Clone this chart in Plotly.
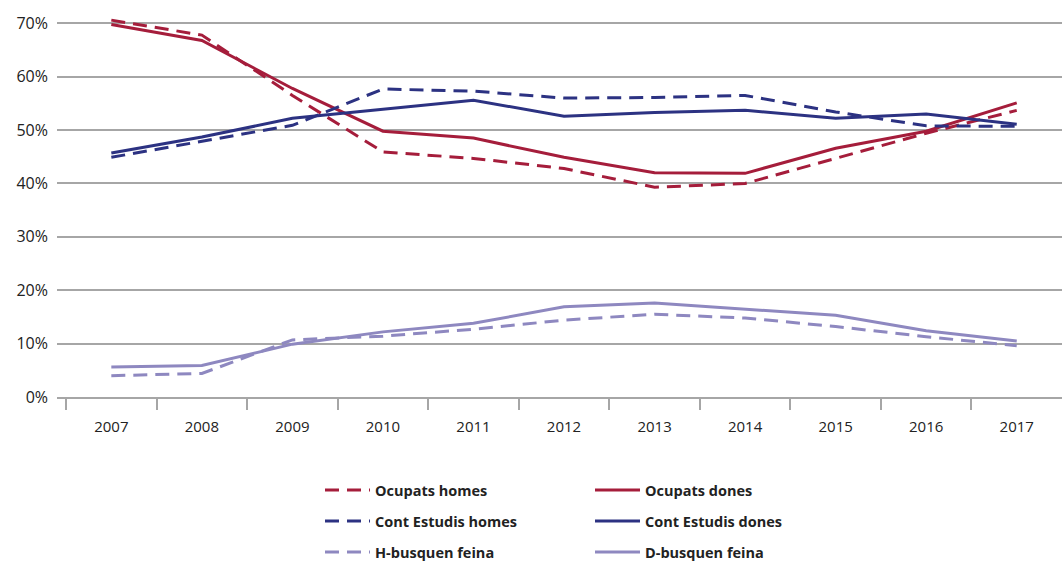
import plotly.graph_objects as go

YEARS = ["2007", "2008", "2009", "2010", "2011", "2012", "2013", "2014", "2015", "2016", "2017"]
Y_TICKS = [0, 10, 20, 30, 40, 50, 60, 70]

ocupats_homes = [70.6, 67.8, 56.5, 45.9, 44.7, 42.8, 39.3, 40.0, 44.7, 49.4, 53.7]
ocupats_dones = [69.8, 66.8, 57.8, 49.8, 48.5, 44.9, 42.0, 41.9, 46.6, 49.8, 55.1]
estudis_homes = [44.9, 47.9, 50.9, 57.7, 57.3, 56.0, 56.1, 56.5, 53.4, 50.8, 50.7]
estudis_dones = [45.7, 48.7, 52.2, 53.9, 55.6, 52.6, 53.3, 53.7, 52.2, 53.0, 51.1]
h_busquen = [4.0, 4.4, 10.7, 11.4, 12.7, 14.4, 15.5, 14.8, 13.2, 11.3, 9.6]
d_busquen = [5.6, 5.9, 9.9, 12.2, 13.8, 16.9, 17.6, 16.5, 15.3, 12.4, 10.5]

RED = "#a51d3b"
NAVY = "#2c3282"
LAVENDER = "#8e88c0"
DASH = "14px,8px"
FONT = "Open Sans, sans-serif"

# (name, values, colour, dash, legend row)
series = [
    ("Ocupats homes", ocupats_homes, RED, DASH, "legend"),
    ("Ocupats dones", ocupats_dones, RED, "solid", "legend"),
    ("Cont Estudis homes", estudis_homes, NAVY, DASH, "legend2"),
    ("Cont Estudis dones", estudis_dones, NAVY, "solid", "legend2"),
    ("H-busquen feina", h_busquen, LAVENDER, DASH, "legend3"),
    ("D-busquen feina", d_busquen, LAVENDER, "solid", "legend3"),
]

x = list(range(len(YEARS)))
fig = go.Figure()
for name, vals, color, dash, leg in series:
    fig.add_trace(go.Scatter(
        x=x, y=vals, name=name, mode="lines", legend=leg,
        line=dict(color=color, width=3, dash=dash),
    ))


def legend_row(ypx):
    return dict(
        orientation="h", x=320 / 1062, xanchor="left", xref="container",
        y=1 - ypx / 563, yanchor="middle", yref="container",
        entrywidth=210, entrywidthmode="pixels", itemwidth=45,
        font=dict(family=FONT, size=14.5, color="#222222", weight="bold"),
        bgcolor="rgba(0,0,0,0)",
    )


fig.update_layout(
    width=1062, height=563,
    margin=dict(l=57, r=0, t=18, b=166),
    plot_bgcolor="white", paper_bgcolor="white",
    font=dict(family=FONT, size=15, color="#222222"),
    showlegend=True,
    legend=legend_row(490),
    legend2=legend_row(521),
    legend3=legend_row(552),
)
fig.update_xaxes(
    range=[-0.6, 10.5], tickmode="array", tickvals=x, ticktext=YEARS,
    ticks="", showgrid=False, zeroline=False,
    showline=True, linecolor="#a6a6a6", linewidth=2,
    ticklabelstandoff=15,
    minor=dict(tickmode="array", tickvals=[i - 0.5 for i in x], ticks="outside",
               ticklen=11, tickcolor="#a6a6a6", tickwidth=2, showgrid=False),
)
fig.update_yaxes(
    range=[0, 71], tickmode="array", tickvals=Y_TICKS,
    ticktext=[f"{v}%" for v in Y_TICKS], tickfont=dict(size=16),
    showgrid=True, gridcolor="#a6a6a6", gridwidth=2,
    zeroline=False, ticklabelstandoff=8,
)

# the page's default body margin would shift the figure; remove it
fig.write_html("out.html", config={"displayModeBar": False},
               post_script="document.body.style.margin='0';")
